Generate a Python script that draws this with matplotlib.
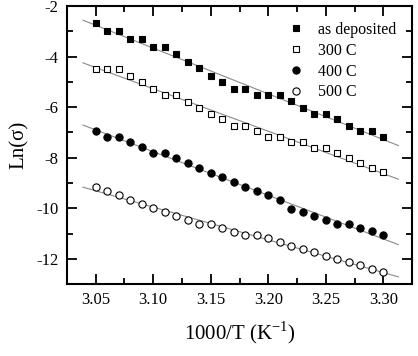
import numpy as np
import matplotlib
matplotlib.use("Agg")
import matplotlib.pyplot as plt
from matplotlib.ticker import MultipleLocator

plt.rcParams['font.family'] = ['Liberation Serif', 'DejaVu Serif']
plt.rcParams['mathtext.fontset'] = 'custom'
plt.rcParams['mathtext.rm'] = 'Liberation Serif'
plt.rcParams['axes.unicode_minus'] = False

x = [3.05, 3.06, 3.07, 3.08, 3.09, 3.10, 3.11, 3.12, 3.13, 3.14, 3.15, 3.16, 3.17,
     3.18, 3.19, 3.20, 3.21, 3.22, 3.23, 3.24, 3.25, 3.26, 3.27, 3.28, 3.29, 3.30]

as_deposited = [-2.68, -3.00, -3.00, -3.31, -3.31, -3.61, -3.61, -3.90, -4.20, -4.47,
                -4.75, -5.01, -5.27, -5.27, -5.53, -5.52, -5.52, -5.76, -6.02, -6.26,
                -6.26, -6.48, -6.74, -6.95, -6.95, -7.17]
c300 = [-4.48, -4.48, -4.48, -4.76, -5.01, -5.27, -5.52, -5.52, -5.79, -6.02,
        -6.26, -6.48, -6.74, -6.74, -6.95, -7.17, -7.17, -7.39, -7.39, -7.61,
        -7.61, -7.81, -8.00, -8.20, -8.40, -8.58]
c400 = [-6.95, -7.17, -7.17, -7.39, -7.59, -7.81, -7.81, -8.02, -8.21, -8.41,
        -8.60, -8.78, -8.96, -9.15, -9.32, -9.49, -9.68, -10.01, -10.16, -10.31,
        -10.47, -10.63, -10.63, -10.77, -10.90, -11.07]
c500 = [-9.15, -9.32, -9.49, -9.67, -9.82, -9.99, -10.16, -10.32, -10.47, -10.63,
        -10.63, -10.77, -10.92, -11.07, -11.07, -11.19, -11.35, -11.50, -11.60, -11.75,
        -11.88, -12.01, -12.14, -12.26, -12.40, -12.53]

labels = ['as deposited', '300 C', '400 C', '500 C']
series = [as_deposited, c300, c400, c500]
markers = ['s', 's', 'o', 'o']
fills = ['black', 'white', 'black', 'white']
msizes = [4.6, 4.6, 5.2, 5.2]

fig = plt.figure(figsize=(4.18, 3.56), dpi=100)
ax = fig.add_axes([0.160, 0.202, 0.826, 0.781])

xa = np.array(x)
for ys, lab, mk, fc, ms in zip(series, labels, markers, fills, msizes):
    ya = np.array(ys)
    p = np.polyfit(xa, ya, 1)
    xf = np.array([xa.min() - 0.011, xa.max() + 0.013])
    ax.plot(xf, np.polyval(p, xf), color='#8a8a8a', lw=0.8, zorder=1)
    ax.plot(xa, ya, linestyle='none', marker=mk, ms=ms, mfc=fc, mec='black',
            mew=0.8, label=lab, zorder=3)

ax.set_xlim(3.025, 3.325)
ax.set_ylim(-13, -2)
ax.xaxis.set_major_locator(MultipleLocator(0.05))
ax.xaxis.set_minor_locator(MultipleLocator(0.025))
ax.yaxis.set_major_locator(MultipleLocator(2))
ax.yaxis.set_minor_locator(MultipleLocator(1))
ax.xaxis.set_major_formatter(matplotlib.ticker.FormatStrFormatter('%.2f'))
ax.tick_params(which='both', direction='in', top=True, right=True, width=1.3,
               labelsize=12, colors='black')
ax.tick_params(which='major', length=7, pad=6)
ax.tick_params(which='minor', length=4)
for s in ax.spines.values():
    s.set_linewidth(1.5)

ax.set_xlabel('1000/T (K$^{\\mathregular{-1}}$)', fontsize=15, labelpad=8)
ax.set_ylabel('Ln(σ)', fontsize=15, labelpad=5)

leg = ax.legend(loc='upper right', frameon=False, fontsize=11.5, numpoints=1,
                handlelength=0.8, handletextpad=1.0, labelspacing=0.3,
                borderaxespad=0.6)

fig.savefig('out.png', dpi=100)
